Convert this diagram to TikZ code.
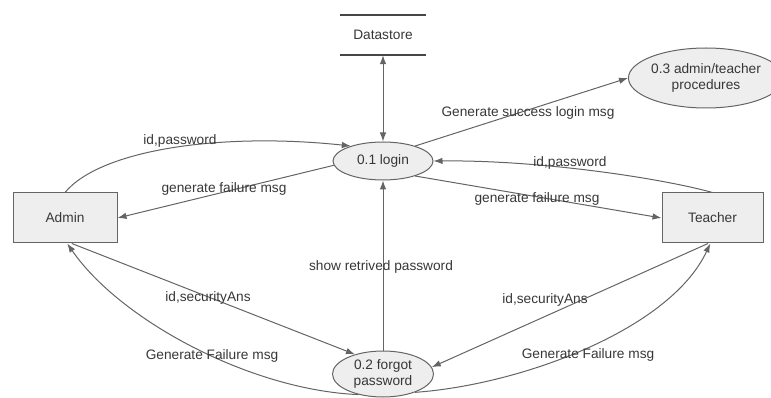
\documentclass[tikz,border=0pt]{standalone}
\usepackage{fontspec}
\setmainfont{Liberation Sans}
\usetikzlibrary{arrows.meta,shapes.geometric}
\definecolor{ln}{RGB}{100,100,100}
\definecolor{tx}{RGB}{55,55,55}
\definecolor{fl}{RGB}{238,238,238}
\definecolor{dsl}{RGB}{70,70,70}
\begin{document}
\begin{tikzpicture}[x=1pt,y=-1pt,
  font=\fontsize{13.7}{16}\selectfont,
  every node/.style={text=tx},
  ent/.style={draw=ln, fill=fl, line width=1pt, minimum width=104pt, minimum height=50pt, inner sep=0pt},
  proc/.style={ellipse, draw=ln, fill=fl, line width=1pt, inner sep=0pt, align=center},
  tip/.style={-{Latex[length=9pt,width=6.5pt]}},
  flow/.style={draw=ln, line width=1pt, tip},
  lbl/.style={inner sep=1pt}]
\useasboundingbox (0,0) rectangle (771,398);

% nodes
\node[ent] (admin) at (65,218) {Admin};
\node[ent, minimum width=101pt] (teacher) at (712.5,218) {Teacher};
\node[proc, minimum width=100pt, minimum height=38pt] (login) at (383,161) {0.1 login};
\node[proc, minimum width=124pt, minimum height=60pt] (proc3) at (706,78) {0.3 admin/teacher\\procedures};
\node[proc, minimum width=101pt, minimum height=46pt] (forgot) at (383,374) {0.2 forgot\\password};
\node[minimum width=85pt, minimum height=40pt, inner sep=0pt] (ds) at (383,35) {Datastore};
\draw[dsl, line width=1.8pt] (ds.north west) -- (ds.north east);
\draw[dsl, line width=1.8pt] (ds.south west) -- (ds.south east);

% connectors
\draw[flow, {Latex[length=9pt,width=6.5pt]}-{Latex[length=9pt,width=6.5pt]}] (ds.south) -- (login.north);

\draw[flow] (login.25) -- (proc3.west);
\node[lbl] at (528,113) {Generate success login msg};

\draw[flow] (admin.north) .. controls (100,150) and (220,132) .. (login.155);
\node[lbl] at (180,141) {id,password};

\draw[flow] (login.185) -- (admin.east);
\node[lbl] at (224,189) {generate failure msg};

\draw[flow] (teacher.north) .. controls (660,178) and (540,160) .. (login.east);
\node[lbl] at (570,163) {id,password};

\draw[flow] (login.-25) -- (teacher.west);
\node[lbl] at (537,199) {generate failure msg};

\draw[flow] (forgot.north) -- (login.south);
\node[lbl] at (381,267) {show retrived password};

\draw[flow] (admin.-75) -- (forgot.145);
\node[lbl] at (208,298) {id,securityAns};

\draw[flow] (forgot.220) .. controls (250,390) and (120,320) .. (admin.-85);
\node[lbl] at (212,356) {Generate Failure msg};

\draw[flow] (teacher.-100) -- (forgot.8);
\node[lbl] at (545,300) {id,securityAns};

\draw[flow] (forgot.-30) .. controls (520,385) and (670,330) .. (teacher.-95);
\node[lbl] at (588,355) {Generate Failure msg};
\end{tikzpicture}
\end{document}
